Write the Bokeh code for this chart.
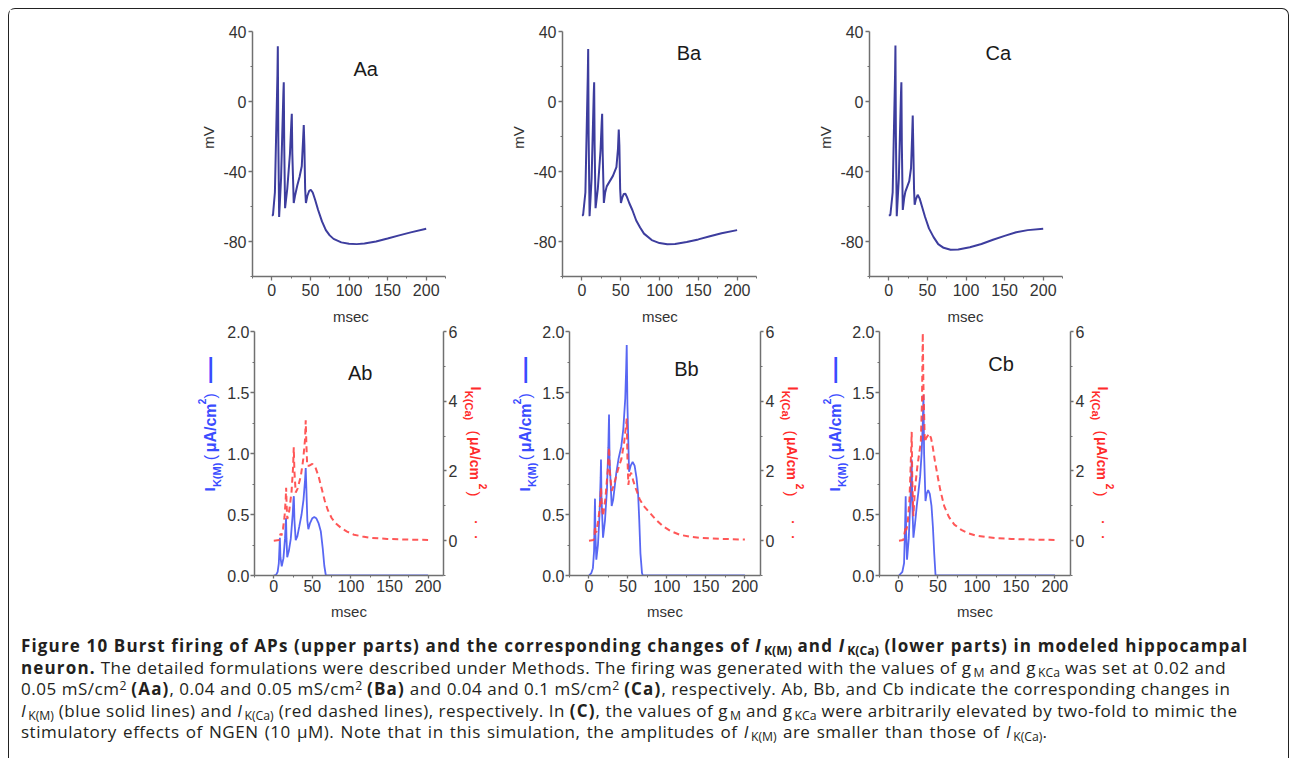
from bokeh.plotting import figure
from bokeh.models import Range1d, LinearAxis, FixedTicker, PrintfTickFormatter, Label, Div
from bokeh.layouts import row, column
from bokeh.embed import file_html
from bokeh.resources import INLINE
import math

# ---------------- data ----------------
t_Aa = [0, 1.5, 4, 7.3, 7.8, 8.4, 9.5, 12, 15.0, 15.5, 16.1, 17.2, 20, 23.5, 25.3, 25.9, 26.6, 28.4,
        30, 33, 36, 38.8, 40.5, 41.4, 42.2, 43.2, 44.2, 46, 48.5, 50.5, 53, 56, 60, 65, 70, 75, 80,
        90, 100, 110, 120, 135, 150, 165, 180, 200]
v_Aa = [-65, -65, -52, 15, 31.5, -20, -66, -44, 5, 11, -25, -61, -50, -30, -12, -7, -30, -58,
        -54, -48, -43, -37, -22, -13.5, -25, -50, -58, -54, -51, -50.5, -52, -56, -62, -68.5, -73.5, -76.5, -78.5,
        -80.5, -81.3, -81.5, -81.2, -80, -78.3, -76.5, -74.8, -72.7]

t_Ba = [0, 1.5, 4.5, 7.6, 8.1, 8.7, 9.9, 12.5, 15.3, 15.8, 16.4, 17.6, 20.5, 24, 25.5, 26.1, 26.8, 28.3,
        30, 32, 36, 40, 44.5, 46.5, 47.5, 48.3, 49.3, 50.3, 52, 54, 56, 58, 61, 65, 70, 75, 80,
        90, 100, 110, 120, 135, 150, 165, 180, 200]
v_Ba = [-65, -65, -52, 15, 30, -20, -65.5, -44, 5, 11, -25, -61, -50, -28, -12, -7, -30, -58,
        -52, -48.5, -45.5, -42.5, -37.5, -27, -16, -25, -50, -58, -55, -52.8, -52.7, -54.5, -58, -62, -68, -72, -75.5,
        -79.2, -80.9, -81.6, -81.4, -80.3, -78.8, -77, -75.3, -73.5]

t_Ca = [0, 2, 5, 8.1, 8.6, 9.2, 10.3, 13, 15.8, 16.3, 16.9, 18.1, 20, 21.5, 24, 26.5, 28.8, 30.2, 31,
        31.7, 32.7, 33.5, 35, 37.4, 40, 43, 47, 52, 58, 64, 71, 80, 90, 105, 120, 135, 150, 165, 180, 200]
v_Ca = [-65, -65, -52, 15, 32, -20, -65.5, -44, 5, 11, -25, -62, -55, -51.5, -48.5, -45.5, -38, -20, -8,
        -25, -50, -59, -56, -53.3, -55.5, -60, -66, -72.5, -77.5, -81.5, -83.6, -84.7, -84.6, -83.3, -81.4, -79,
        -76.8, -74.7, -73.5, -72.7]

t_Ab_m = [0, 3, 5, 6.5, 7.5, 7.9, 8.6, 10.3, 12.5, 14.5, 15.4, 15.9, 16.5, 17.4, 19.5, 22, 24.5, 25.5, 26,
          26.8, 28.4, 30.5, 33, 36, 38.5, 40.5, 41.4, 42.3, 43.5, 44.8, 47, 50, 52.5, 55, 58, 61, 63.5, 65.5,
          67.5, 200]
i_Ab_m = [0, 0.005, 0.03, 0.1, 0.25, 0.31, 0.15, 0.075, 0.14, 0.3, 0.42, 0.47, 0.3, 0.15, 0.2, 0.3, 0.5, 0.62,
          0.65, 0.45, 0.29, 0.32, 0.4, 0.5, 0.62, 0.78, 0.88, 0.7, 0.45, 0.38, 0.43, 0.47, 0.48, 0.47, 0.43,
          0.36, 0.22, 0.08, 0.0, 0]
t_Ab_ca = [0, 7, 8, 9, 10, 12, 14, 15.5, 16, 16.7, 17.5, 20, 23, 25, 25.9, 26.7, 28.4, 31, 35, 38, 40.5,
           41.4, 42.2, 43.3, 46, 50, 54, 58, 62, 66, 70, 75, 80, 87, 95, 104, 115, 126, 147, 175, 200]
i_Ab_ca = [0, 0.02, 0.15, 0.2, 0.15, 0.35, 0.7, 1.2, 1.52, 1.0, 0.62, 0.85, 1.4, 2.1, 2.68, 2.0, 1.38, 1.5,
           1.85, 2.3, 2.9, 3.45, 2.8, 2.15, 2.15, 2.2, 2.1, 1.85, 1.5, 1.15, 0.88, 0.65, 0.5, 0.37, 0.26, 0.17,
           0.12, 0.08, 0.05, 0.03, 0.02]

t_Bb_m = [0, 3, 5, 6.5, 7.3, 7.7, 8.2, 9.4, 11.5, 13.5, 14.9, 15.4, 16, 18, 20.5, 23, 24.8, 25.7, 26.4, 29.1,
          31, 35, 38, 41.5, 44, 46.5, 47.7, 48.4, 49.3, 51.4, 53.5, 56, 58.5, 61, 63, 64.5, 66, 68, 69, 200]
i_Bb_m = [0, 0.02, 0.06, 0.2, 0.5, 0.63, 0.35, 0.13, 0.25, 0.5, 0.8, 0.95, 0.65, 0.31, 0.45, 0.7, 1.05, 1.32,
          0.95, 0.57, 0.62, 0.84, 0.96, 1.06, 1.2, 1.45, 1.7, 1.89, 1.4, 0.85, 0.9, 0.93, 0.9, 0.8, 0.67, 0.45,
          0.18, 0.02, 0, 0]
t_Bb_ca = [0, 6, 7.2, 7.7, 8.3, 9.5, 12, 14.5, 15.4, 16.2, 18, 21, 24, 25.7, 26.6, 29.1, 32, 35, 38, 41.5, 45,
           47, 48.4, 49.3, 50.5, 52, 54, 57, 60, 65, 70, 78, 86, 95, 105, 116.5, 130, 142, 170, 200]
i_Bb_ca = [0, 0.02, 0.2, 0.41, 0.25, 0.25, 0.6, 1.1, 1.52, 1.1, 0.7, 1.2, 2.0, 2.68, 2.0, 1.43, 1.6, 1.86, 2.1,
           2.34, 2.8, 3.2, 3.5, 2.4, 1.6, 1.85, 1.95, 1.7, 1.5, 1.19, 1.0, 0.8, 0.6, 0.41, 0.27, 0.17, 0.11, 0.08,
           0.05, 0.03]

t_Cb_m = [0, 4.3, 6.5, 7.8, 8.6, 9.2, 10.3, 12.5, 14.8, 16.3, 17, 18.5, 20.5, 22.8, 25, 27.1, 29, 30.5, 31.4,
          32.2, 34, 35.5, 37.4, 39.5, 41.7, 43.5, 45.2, 46.9, 200]
i_Cb_m = [0, 0.03, 0.1, 0.4, 0.65, 0.35, 0.13, 0.3, 0.65, 0.95, 0.6, 0.31, 0.42, 0.57, 0.69, 0.81, 1.0, 1.25, 1.48,
          1.0, 0.61, 0.67, 0.70, 0.67, 0.57, 0.4, 0.18, 0, 0]
t_Cb_ca = [0, 5.5, 7.8, 8.6, 9.3, 11, 13.5, 15.5, 16.3, 17, 18.5, 20.5, 23.7, 28, 29.5, 30.5, 31.3, 33.1, 35,
           38.7, 41, 43, 46, 49.5, 53, 58, 64, 71, 80, 88, 98, 110, 125, 144, 170, 200]
i_Cb_ca = [0, 0.02, 0.3, 0.41, 0.3, 0.45, 1.2, 2.5, 3.12, 1.8, 0.70, 1.5, 2.15, 2.83, 4.0, 5.96, 4.5, 2.83, 2.95,
           3.07, 2.95, 2.73, 2.3, 1.86, 1.45, 0.99, 0.68, 0.46, 0.31, 0.22, 0.15, 0.11, 0.07, 0.05, 0.03, 0.02]

x_ticks = [0, 50, 100, 150, 200]
x_minor = [-25, 25, 75, 125, 175, 225]
v_ticks = [-80, -40, 0, 40]
v_minor = [-100, -60, -20, 20]
im_ticks = [0, 0.5, 1.0, 1.5, 2.0]
im_minor = [0.25, 0.75, 1.25, 1.75]
ica_ticks = [0, 2, 4, 6]
ica_minor = [-1, 1, 3, 5]

top_titles = ["Aa", "Ba", "Ca"]
bottom_titles = ["Ab", "Bb", "Cb"]

caption_lines = [
    '<b>Figure 10 Burst firing of APs (upper parts) and the corresponding changes of <i>I</i><sub>K(M)</sub> and <i>I</i><sub>K(Ca)</sub> (lower parts) in modeled hippocampal</b>',
    '<b>neuron.</b> The detailed formulations were described under Methods. The firing was generated with the values of g<sub>M</sub> and g<sub>KCa</sub> was set at 0.02 and',
    '0.05 mS/cm<sup>2</sup> <b>(Aa)</b>, 0.04 and 0.05 mS/cm<sup>2</sup> <b>(Ba)</b> and 0.04 and 0.1 mS/cm<sup>2</sup> <b>(Ca)</b>, respectively. Ab, Bb, and Cb indicate the corresponding changes in',
    '<i>I</i><sub>K(M)</sub> (blue solid lines) and <i>I</i><sub>K(Ca)</sub> (red dashed lines), respectively. In <b>(C)</b>, the values of g<sub>M</sub> and g<sub>KCa</sub> were arbitrarily elevated by two-fold to mimic the',
    'stimulatory effects of NGEN (10 μM). Note that in this simulation, the amplitudes of <i>I</i><sub>K(M)</sub> are smaller than those of <i>I</i><sub>K(Ca)</sub>.',
]

# ---------------- styling ----------------
FONT = "Liberation Sans"
AXIS_COL = "#707070"
TICK_TXT = "#333333"
TOP_LINE = "#3d3d9e"
BLUE = "#4656f2"
RED = "#ff4545"
LBL_BLUE = "#3a4cff"
LBL_RED = "#ff2a2a"


def style_axis(ax, tick_out=4, standoff=2):
    ax.axis_line_color = AXIS_COL
    ax.axis_line_width = 1.5
    ax.major_tick_line_color = AXIS_COL
    ax.major_tick_line_width = 1.3
    ax.minor_tick_line_color = AXIS_COL
    ax.minor_tick_line_width = 1.0
    ax.major_tick_in = 0
    ax.major_tick_out = tick_out
    ax.minor_tick_in = 0
    ax.minor_tick_out = 2
    ax.major_label_text_font = FONT
    ax.major_label_text_font_size = "16px"
    ax.major_label_text_color = TICK_TXT
    ax.major_label_standoff = standoff
    ax.axis_label_text_font = FONT
    ax.axis_label_text_font_style = "normal"
    ax.axis_label_text_font_size = "15px"
    ax.axis_label_text_color = "#333333"


def drop_title(p):
    try:
        p.title = None
    except Exception:
        p.title.visible = False


def make_fig(fw, fh, bl, br, bt, bb, xr, yr):
    p = figure(frame_width=fw, frame_height=fh, min_border_left=bl, min_border_right=br,
               min_border_top=bt, min_border_bottom=bb, x_range=Range1d(*xr), y_range=Range1d(*yr),
               output_backend="svg", toolbar_location=None, tools="")
    drop_title(p)
    p.xgrid.visible = False
    p.ygrid.visible = False
    p.outline_line_color = None
    p.background_fill_color = "white"
    p.border_fill_color = "white"
    return p


def label_fig(x0, x1, y0, y1, bt=0, bb=0):
    """A blank strip figure beside a panel; data units are pixels measured from that panel's frame.
    Its frame has the same height as the panel's frame (rows line frames up)."""
    p = figure(frame_width=x1 - x0, frame_height=y1 - y0, x_range=Range1d(x0, x1), y_range=Range1d(y0, y1),
               min_border_left=0, min_border_right=0, min_border_top=bt, min_border_bottom=bb,
               output_backend="svg", toolbar_location=None, tools="",
               x_axis_location=None, y_axis_location=None)
    drop_title(p)
    p.xgrid.visible = False
    p.ygrid.visible = False
    p.outline_line_color = None
    p.background_fill_color = "white"
    p.border_fill_color = "white"
    return p


def lab(p, x, y, text, size, color, angle=0.0, align="center", baseline="middle", bold=False):
    p.add_layout(Label(x=x, y=y, text=text, text_font=FONT, text_font_size=f"{size}px",
                       text_color=color, angle=angle, text_align=align, text_baseline=baseline,
                       text_font_style="bold" if bold else "normal"))


# ---------------- upper row ----------------
TOP_FH, TOP_BT, TOP_BB = 245, 22, 27
top_specs = [(-243, 36, 193, 37), (-80, 34, 194, 33), (-80, 34, 193, 30)]  # strip start, left border, frame w, right border
top_data = [(t_Aa, v_Aa), (t_Ba, v_Ba), (t_Ca, v_Ca)]
title_pos_top = [(121.6, 18.4), (137.9, 27.6), (141.9, 27.6)]
top_children = []
for k in range(3):
    x0, bl, fw, br = top_specs[k]
    lf = label_fig(x0, -bl, 0, TOP_FH, TOP_BT, TOP_BB)
    lab(lf, -44, 139, "mV", 15, "#333333", angle=math.pi / 2)
    p = make_fig(fw, TOP_FH, bl, br, TOP_BT, TOP_BB, (-25, 225), (-100, 40))
    p.line(top_data[k][0], top_data[k][1], line_color=TOP_LINE, line_width=2.0)
    p.xaxis.ticker = FixedTicker(ticks=x_ticks, minor_ticks=x_minor)
    p.yaxis.ticker = FixedTicker(ticks=v_ticks, minor_ticks=v_minor)
    p.yaxis.formatter = PrintfTickFormatter(format="%d")
    style_axis(p.xaxis[0], tick_out=4, standoff=3)
    style_axis(p.yaxis[0])
    tx, ty = title_pos_top[k]
    p.add_layout(Label(x=tx, y=ty, text=top_titles[k], text_font=FONT, text_font_size="20px",
                       text_color="#1a1a1a", text_align="center", text_baseline="middle"))
    top_children += [lf, p]

# strip that carries the x-axis titles of the upper panels
msec_strip = label_fig(0, 1083, 0, 21)
for cx in (341.4, 650.4, 956.0):
    lab(msec_strip, cx, 7.6, "msec", 15, "#333333")

# ---------------- lower row ----------------
FH, BOT_BT, BOT_BB, BOT_BL, BOT_BR = 244, 7, 52, 28, 15
bot_specs = [(-243, 189, 50), (-72, 191, 50), (-65, 191, 59)]   # left strip start, frame width, right strip end
bot_data = [(t_Ab_m, i_Ab_m, t_Ab_ca, i_Ab_ca), (t_Bb_m, i_Bb_m, t_Bb_ca, i_Bb_ca),
            (t_Cb_m, i_Cb_m, t_Cb_ca, i_Cb_ca)]
title_pos_bot = [(112, 1.66), (125, 1.69), (131, 1.73)]
bot_children = []
for k in range(3):
    x0, fw, x1 = bot_specs[k]
    # left strip: I_K(M) (uA/cm2) ---   (centre of each piece, y up from the frame bottom)
    lf = label_fig(x0, -BOT_BL, 0, FH, BOT_BT, BOT_BB)
    A = math.pi / 2
    lab(lf, -43, 86, "I", 15, LBL_BLUE, angle=A, bold=True)
    lab(lf, -36, 100.6, "K(M)", 11, LBL_BLUE, angle=A, bold=True)
    lab(lf, -42, 118, "(", 16, LBL_BLUE, angle=A)
    lab(lf, -42, 147.6, "μA/cm", 16, LBL_BLUE, angle=A, bold=True)
    lab(lf, -51, 174, "2", 10, LBL_BLUE, angle=A, bold=True)
    lab(lf, -42, 179.6, ")", 16, LBL_BLUE, angle=A)
    lab(lf, -43.5, 205.6, "—", 26, LBL_BLUE, angle=A, bold=True)

    p = make_fig(fw, FH, BOT_BL, BOT_BR, BOT_BT, BOT_BB, (-25, 220), (0, 2))
    p.extra_y_ranges = {"r": Range1d(-1, 6)}
    tm, im, tc, ic = bot_data[k]
    p.line(tm, im, line_color=BLUE, line_width=1.8, line_alpha=0.9)
    p.line(tc, ic, y_range_name="r", line_color=RED, line_width=2.0, line_dash="6 4", line_alpha=0.9)
    p.xaxis.ticker = FixedTicker(ticks=x_ticks, minor_ticks=x_minor)
    p.yaxis.ticker = FixedTicker(ticks=im_ticks, minor_ticks=im_minor)
    p.yaxis.formatter = PrintfTickFormatter(format="%.1f")
    rax = LinearAxis(y_range_name="r", ticker=FixedTicker(ticks=ica_ticks, minor_ticks=ica_minor),
                     formatter=PrintfTickFormatter(format="%d"))
    p.add_layout(rax, "right")
    style_axis(p.xaxis[0], tick_out=3, standoff=1)
    style_axis(p.yaxis[0], tick_out=4, standoff=1)
    style_axis(rax, tick_out=3, standoff=2)
    p.xaxis.axis_label = "msec"
    p.xaxis.axis_label_standoff = 8
    tx, ty = title_pos_bot[k]
    p.add_layout(Label(x=tx, y=ty, text=bottom_titles[k], text_font=FONT, text_font_size="20px",
                       text_color="#1a1a1a", text_align="center", text_baseline="middle"))

    # right strip: I_K(Ca) (uA/cm2) . .   (y measured downward from the frame top, as negatives)
    rf = label_fig(BOT_BR, x1, -FH, 0, BOT_BT, BOT_BB)
    B = -math.pi / 2
    lab(rf, 30, -57, "I", 14, LBL_RED, angle=B, bold=True)
    lab(rf, 23, -74, "K(Ca)", 11, LBL_RED, angle=B, bold=True)
    lab(rf, 29, -101.5, "(", 15, LBL_RED, angle=B)
    lab(rf, 29, -127, "μA/cm", 14, LBL_RED, angle=B, bold=True)
    lab(rf, 37.5, -155, "2", 10, LBL_RED, angle=B, bold=True)
    lab(rf, 29, -162.5, ")", 15, LBL_RED, angle=B)
    lab(rf, 30.5, -190, "•", 8, LBL_RED)
    lab(rf, 30.5, -205, "•", 8, LBL_RED)
    bot_children += [lf, p, rf]

# ---------------- caption ----------------
sub_css = ("font-size:0.72em;position:relative;top:0.28em;vertical-align:baseline;line-height:0;"
           "letter-spacing:0;margin-left:2px;")
sup_css = "font-size:0.72em;position:relative;top:-0.42em;vertical-align:baseline;line-height:0;letter-spacing:0;"
html_lines = [ln.replace("<sub>", f'<span style="{sub_css}">').replace("</sub>", "</span>")
                .replace("<sup>", f'<span style="{sup_css}">').replace("</sup>", "</span>")
                .replace("<b>", '<b style="letter-spacing:1.15px;">')
              for ln in caption_lines]
html_lines[-1] = '<span style="word-spacing:1.3px;">' + html_lines[-1] + '</span>'
caption_html = ('<div style="font-family:\'Open Sans\';font-size:17px;line-height:21.5px;color:#231f20;'
                'padding:8px 0 0 12px;white-space:nowrap;letter-spacing:0.52px;">'
                + "<br>".join(html_lines) + "</div>")
caption = Div(text=caption_html, width=1279, height=131, margin=0)

layout = column(row(*top_children), msec_strip, row(*bot_children), caption, margin=(8, 0, 0, 8),
                styles={"border-left": "1.6px solid #222", "border-top": "1.6px solid #222",
                        "border-right": "1.6px solid #222", "border-top-left-radius": "7px",
                        "border-top-right-radius": "7px"})

open("out.html", "w", encoding="utf-8").write(file_html(layout, INLINE))
